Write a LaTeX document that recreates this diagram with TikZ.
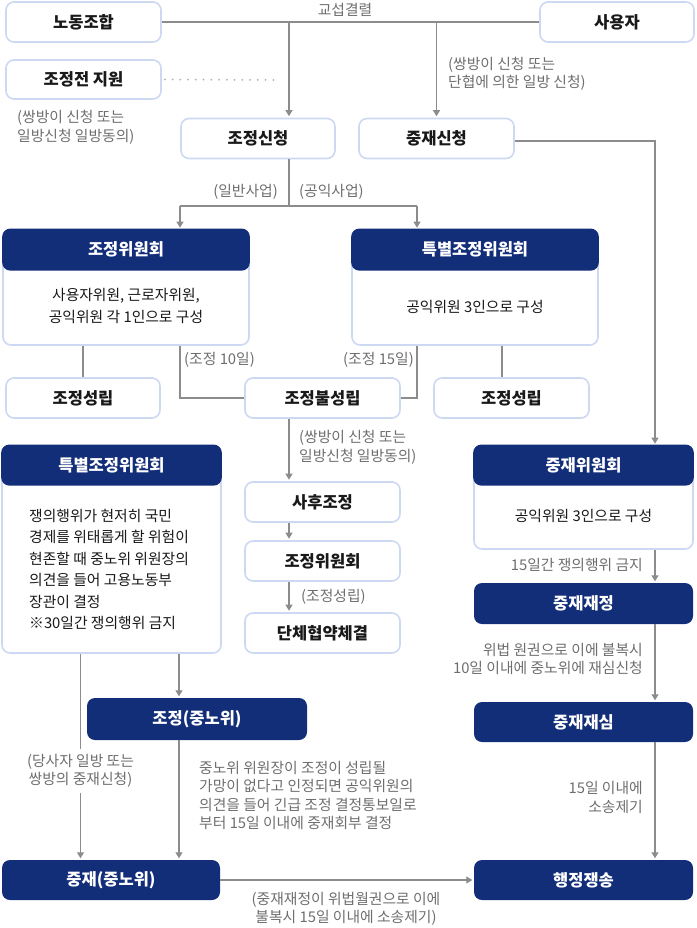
\documentclass[tikz,border=0pt]{standalone}
\usepackage{fontspec}
\setmainfont{Noto Sans CJK KR}
\usetikzlibrary{arrows.meta,calc}
\definecolor{navy}{RGB}{19,46,121}
\definecolor{bord}{RGB}{205,216,243}
\definecolor{lineg}{RGB}{140,140,140}
\definecolor{dotg}{RGB}{175,175,175}
\definecolor{noteg}{RGB}{110,110,110}
\definecolor{ink}{RGB}{25,25,25}
\tikzset{
  ln/.style={draw=lineg,line width=1.1pt},
  arr/.style={ln,-{Triangle[width=7pt,length=6pt]},shorten >=1.5pt},
  obox/.style={draw=bord,line width=1.6pt,rounded corners=8pt,fill=white,inner sep=0pt,minimum height=40pt,font=\fontsize{16.5}{19}\selectfont\bfseries,text=ink},
  dbox/.style={fill=navy,rounded corners=8pt,inner sep=0pt,minimum height=41pt,font=\fontsize{16.5}{19}\selectfont\bfseries,text=white},
  shell/.style={draw=bord,line width=1.6pt,rounded corners=8pt,fill=white,inner sep=0pt},
  body/.style={font=\fontsize{14.8}{21.5}\selectfont,text=ink,inner sep=0pt},
  note/.style={font=\fontsize{14.8}{18.6}\selectfont,text=noteg,inner sep=0pt},
}
\begin{document}
\begin{tikzpicture}[x=1pt,y=-1pt]
\useasboundingbox (0,0) rectangle (696,928);

% top row
\node[obox,minimum width=155pt] (union) at (83.5,22) {노동조합};
\node[obox,minimum width=154pt] (employer) at (617,22) {사용자};
\node[obox,minimum width=155pt,minimum height=39pt] (prep) at (83.5,79.5) {조정전 지원};
\node[obox,minimum width=154pt] (medreq) at (258,138.5) {조정신청};
\node[obox,minimum width=155pt] (arbreq) at (436.5,138.5) {중재신청};

% committees
\node[shell,minimum width=246pt,minimum height=115pt] (medcom) at (126,287.5) {};
\node[dbox,minimum width=247.6pt,minimum height=42pt,anchor=north] (medcomh) at ([yshift=0.8pt]medcom.north) {조정위원회};
\node[body,align=center] (medcomt) at (126,306) {사용자위원, 근로자위원,\\공익위원 각 1인으로 구성};

\node[shell,minimum width=246pt,minimum height=115pt] (spcom) at (475,287.5) {};
\node[dbox,minimum width=247.6pt,minimum height=42pt,anchor=north] (spcomh) at ([yshift=0.8pt]spcom.north) {특별조정위원회};
\node[body] (spcomt) at (475,307) {공익위원 3인으로 구성};

\node[obox,minimum width=154pt] (agree1) at (83,398) {조정성립};
\node[obox,minimum width=155pt] (fail) at (322.5,398) {조정불성립};
\node[obox,minimum width=155pt] (agree2) at (511.5,398) {조정성립};

\node[shell,minimum width=219pt,minimum height=207pt] (emerg) at (111.5,549.5) {};
\node[dbox,minimum width=220.6pt,minimum height=41pt,anchor=north] (emergh) at ([yshift=0.8pt]emerg.north) {특별조정위원회};
\node[body,align=left,anchor=west] (emergt) at (29,569.5) {쟁의행위가 현저히 국민\\경제를 위태롭게 할 위험이\\현존할 때 중노위 위원장의\\의견을 들어 고용노동부\\장관이 결정\\※30일간 쟁의행위 금지};

\node[obox,minimum width=155pt] (after) at (322.5,502) {사후조정};
\node[obox,minimum width=155pt] (medcom2) at (322.5,561) {조정위원회};
\node[obox,minimum width=155pt] (cba) at (322.5,633) {단체협약체결};

\node[shell,minimum width=219pt,minimum height=103pt] (arbcom) at (583.5,497.5) {};
\node[dbox,minimum width=220.6pt,minimum height=41pt,anchor=north] (arbcomh) at ([yshift=0.8pt]arbcom.north) {중재위원회};
\node[body] (arbcomt) at (583.5,516) {공익위원 3인으로 구성};

\node[dbox,minimum width=219pt] (award) at (583.5,603.5) {중재재정};
\node[dbox,minimum width=219pt,minimum height=40pt] (review) at (583.5,722) {중재재심};
\node[dbox,minimum width=219pt,minimum height=40pt] (litig) at (583.5,880) {행정쟁송};

\node[dbox,minimum width=220pt,minimum height=42pt] (nlrcmed) at (197,719) {조정(중노위)};
\node[dbox,minimum width=218pt,minimum height=40pt] (nlrcarb) at (111,880) {중재(중노위)};

% helper coordinates
\coordinate (xm) at (289,206);
\coordinate (xa) at (180,206);
\coordinate (xb) at (417,206);
\coordinate (xr) at (655,0);
\coordinate (xl) at (80.5,0);
\coordinate (xc) at (179,0);
\coordinate (xd) at (502,0);
\coordinate (dotend) at (279,80);

% connectors
\draw[ln] (union.east) -- (employer.west);
\draw[arr] (xm |- union.east) -- (xm |- medreq.north);
\draw[arr] (arbreq.north |- union.east) -- (arbreq.north);
\draw[draw=dotg,line width=2pt,line cap=round,dash pattern=on 0pt off 7.75pt] ([xshift=3pt]prep.east) -- (dotend);
\draw[ln] (xm |- medreq.south) -- (xm);
\draw[ln] (xa) -- (xb);
\draw[arr] (xa) -- (xa |- medcom.north);
\draw[arr] (xb) -- (xb |- spcom.north);
\draw[arr] ([yshift=-2.5pt]arbreq.east) -| (xr |- arbcom.north);

\draw[ln] (agree1.north |- medcom.south) -- (agree1.north);
\draw[ln] (xa |- medcom.south) |- (fail.west);
\draw[ln] (xb |- spcom.south) |- (fail.east);
\draw[ln] (xd |- spcom.south) -- (xd |- agree2.north);

\draw[arr] (xm |- fail.south) -- (xm |- after.north);
\draw[arr] (xm |- after.south) -- (xm |- medcom2.north);
\draw[arr] (xm |- medcom2.south) -- (xm |- cba.north);

\draw[arr] (xl |- emerg.south) -- (xl |- nlrcarb.north);
\draw[arr] (xc |- emerg.south) -- (xc |- nlrcmed.north);
\draw[arr] (xc |- nlrcmed.south) -- (xc |- nlrcarb.north);
\draw[arr] (nlrcarb.east) -- (litig.west);

\draw[arr] (xr |- arbcom.south) -- (xr |- award.north);
\draw[arr] (xr |- award.south) -- (xr |- review.north);
\draw[arr] (xr |- review.south) -- (xr |- litig.north);

% labels
\node[note] (l0) at (345,9.5) {교섭결렬};
\node[note,align=left,anchor=west] (l1) at (17,127.5) {(쌍방이 신청 또는\\일방신청 일방동의)};
\node[note,align=left,anchor=west] (l2) at (448,74) {(쌍방이 신청 또는\\단협에 의한 일방 신청)};
\node[note,anchor=east] (l3) at (278,192) {(일반사업)};
\node[note,anchor=west] (l4) at (299,192) {(공익사업)};
\node[note,anchor=west] (l5) at (184,360) {(조정 10일)};
\node[note,anchor=east] (l6) at (414,360) {(조정 15일)};
\node[note,align=left,anchor=west] (l7) at (299,447) {(쌍방이 신청 또는\\일방신청 일방동의)};
\node[note,anchor=west] (l8) at (301,597) {(조정성립)};
\node[note,align=center,fill=white,inner sep=5pt] (l9) at (80.5,771) {(당사자 일방 또는\\쌍방의 중재신청)};
\node[note,align=left,anchor=west] (l10) at (199,795.5) {중노위 위원장이 조정이 성립될\\가망이 없다고 인정되면 공익위원의\\의견을 들어 긴급 조정 결정통보일로\\부터 15일 이내에 중재회부 결정};
\node[note,align=center] (l11) at (346,909) {(중재재정이 위법월권으로 이에\\불복시 15일 이내에 소송제기)};
\node[note,anchor=east] (l12) at (643,565) {15일간 쟁의행위 금지};
\node[note,align=right,anchor=east] (l13) at (643,659) {위법 원권으로 이에 불복시\\10일 이내에 중노위에 재심신청};
\node[note,align=right,anchor=east] (l14) at (643,797.5) {15일 이내에\\소송제기};
\end{tikzpicture}
\end{document}
